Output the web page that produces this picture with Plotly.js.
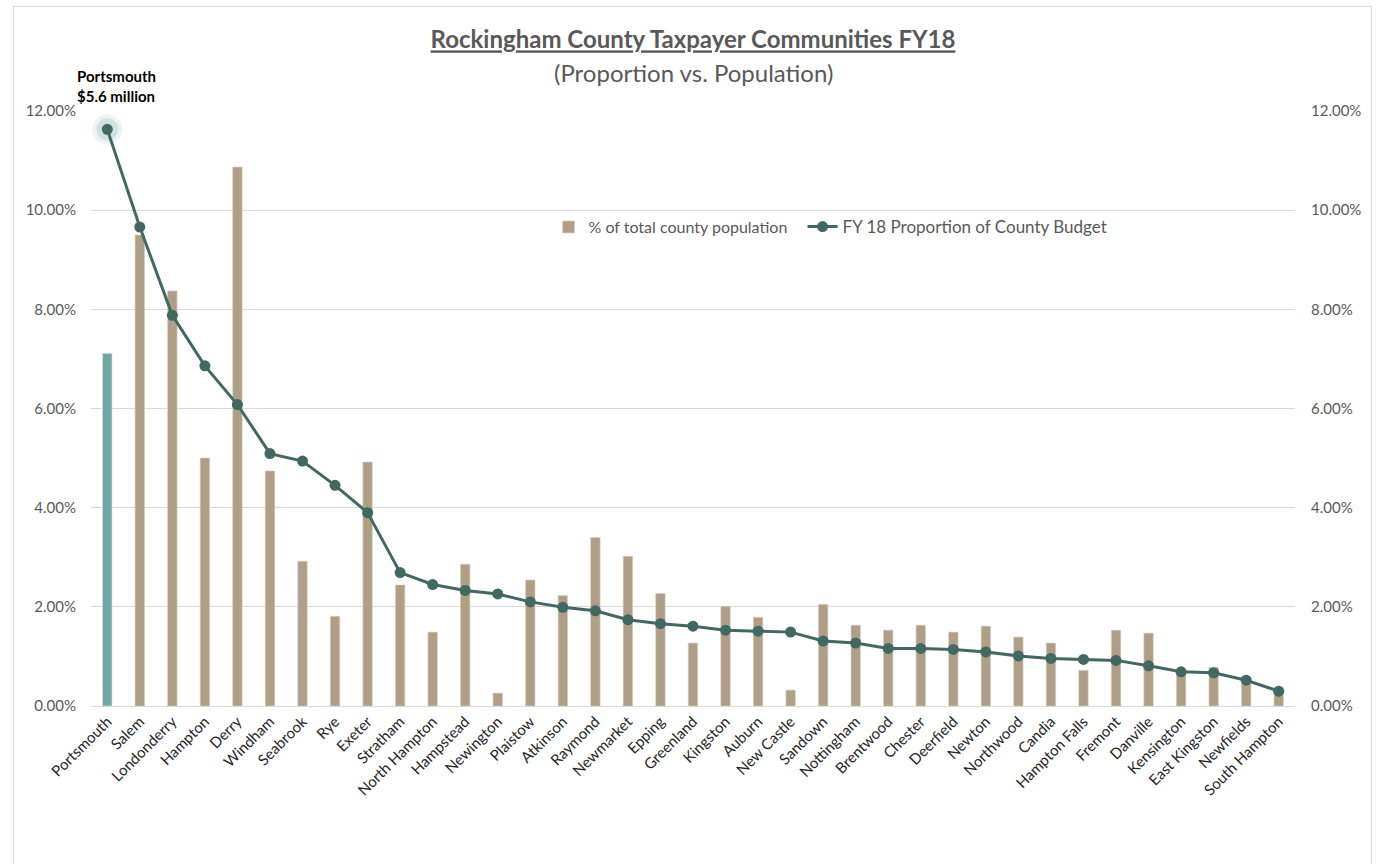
<!DOCTYPE html>
<html>
<head>
<meta charset="utf-8">
<script src="https://cdn.plot.ly/plotly-3.0.1.min.js"></script>
<style>
  html, body { margin: 0; padding: 0; background: #ffffff; }
  #wrap { position: relative; width: 1378px; height: 864px; overflow: hidden; }
  #chart { width: 1378px; height: 864px; }
  #frame { position: absolute; left: 13px; top: 6px; width: 1357px; height: 900px;
           border: 1px solid #d9d9d9; pointer-events: none; }
</style>
</head>
<body>
<div id="wrap">
  <div id="chart"></div>
  <div id="frame"></div>
</div>
<script>
// ---- data ----
const communities = ["Portsmouth","Salem","Londonderry","Hampton","Derry","Windham","Seabrook","Rye","Exeter","Stratham",
  "North Hampton","Hampstead","Newington","Plaistow","Atkinson","Raymond","Newmarket","Epping","Greenland","Kingston",
  "Auburn","New Castle","Sandown","Nottingham","Brentwood","Chester","Deerfield","Newton","Northwood","Candia",
  "Hampton Falls","Fremont","Danville","Kensington","East Kingston","Newfields","South Hampton"];

// % of total county population
const populationShare = [0.0711,0.0950,0.0837,0.0500,0.1087,0.0474,0.0292,0.0181,0.0492,0.0244,
  0.0149,0.0286,0.0026,0.0254,0.0223,0.0340,0.0302,0.0227,0.0127,0.0201,
  0.0179,0.0032,0.0205,0.0163,0.0153,0.0163,0.0149,0.0161,0.0139,0.0127,
  0.0072,0.0153,0.0147,0.0068,0.0078,0.0055,0.0033];

// FY 18 proportion of county budget
const budgetShare = [0.1163,0.0966,0.0788,0.0686,0.0608,0.0509,0.0494,0.0445,0.0390,0.0269,
  0.0245,0.0233,0.0226,0.0210,0.0199,0.0192,0.0174,0.0166,0.0161,0.0153,
  0.0151,0.0149,0.0131,0.0127,0.0116,0.0116,0.0114,0.0109,0.0101,0.0096,
  0.0094,0.0092,0.0081,0.0069,0.0067,0.0052,0.0030];

const yTicks = [0,0.02,0.04,0.06,0.08,0.10,0.12];
const calloutLines = ["Portsmouth","$5.6 million"];
const titleText = "Rockingham County Taxpayer Communities FY18";
const subtitleText = "(Proportion vs. Population)";
const barName = "% of total county population";
const lineName = "FY 18 Proportion of County Budget";

// ---- styles ----
const FONT = "Lato, 'Open Sans', sans-serif";
const TAN = "#b09f87";
const TEAL_BAR = "#72a6a3";
const LINE = "#426862";

const traces = [
  {
    type: "bar", name: barName, showlegend: false,
    x: communities.slice(0, 1), y: populationShare.slice(0, 1),
    marker: { color: TEAL_BAR, line: { color: "#cfe0de", width: 0.6 } },
    yaxis: "y", hoverinfo: "skip"
  },
  {
    type: "bar", name: barName, legend: "legend",
    x: communities.slice(1), y: populationShare.slice(1),
    marker: { color: TAN, line: { color: "#d8cfc2", width: 0.6 } },
    yaxis: "y", hoverinfo: "skip"
  },
  {
    type: "scatter", mode: "markers", showlegend: false,
    x: [communities[0]], y: [budgetShare[0]], yaxis: "y2",
    marker: { size: 30, color: "rgba(114,166,163,0.12)" }, hoverinfo: "skip"
  },
  {
    type: "scatter", mode: "markers", showlegend: false,
    x: [communities[0]], y: [budgetShare[0]], yaxis: "y2",
    marker: { size: 22, color: "rgba(114,166,163,0.22)" }, hoverinfo: "skip"
  },
  {
    type: "scatter", mode: "lines+markers", name: lineName, legend: "legend2",
    x: communities, y: budgetShare, yaxis: "y2",
    line: { color: LINE, width: 3 },
    marker: { color: LINE, size: 11 }, hoverinfo: "skip"
  }
];

const axisCommon = {
  range: [0, 0.12], tickvals: yTicks, tickformat: ".2%",
  tickfont: { family: FONT, size: 15, color: "#595959" },
  zeroline: false, showline: false, ticks: "", fixedrange: true, automargin: false
};

const legendCommon = {
  orientation: "h", y: 0.805, xanchor: "left", yanchor: "middle",
  font: { family: FONT, size: 16, color: "#595959" },
  bgcolor: "rgba(0,0,0,0)", itemwidth: 30
};

const layout = {
  width: 1378, height: 864,
  paper_bgcolor: "#ffffff", plot_bgcolor: "#ffffff",
  margin: { l: 91, r: 83, t: 111, b: 158 },
  font: { family: FONT, color: "#595959" },
  title: {
    text: "<u><b>" + titleText + "</b></u>",
    font: { family: FONT, size: 24, color: "#595959" },
    x: 0.5, xanchor: "center", xref: "paper", automargin: false,
    y: 1 - 40 / 864, yanchor: "middle", yref: "container"
  },
  barmode: "overlay",
  bargap: 0.71,
  showlegend: true,
  legend: Object.assign({}, legendCommon, { x: 0.38 }),
  legend2: Object.assign({}, legendCommon, { x: 0.591, font: { family: FONT, size: 17, color: "#595959" } }),
  xaxis: {
    type: "category", categoryorder: "array", categoryarray: communities,
    range: [-0.5, communities.length - 0.5],
    tickangle: -45, showgrid: false, showline: true, automargin: false,
    linecolor: "#d9d9d9", linewidth: 1, ticks: "",
    tickfont: { family: FONT, size: 15, color: "#262626" }, fixedrange: true
  },
  yaxis: Object.assign({}, axisCommon, {
    showgrid: true, gridcolor: "#d9d9d9", gridwidth: 1, side: "left", ticklabelstandoff: 14
  }),
  yaxis2: Object.assign({}, axisCommon, {
    overlaying: "y", side: "right", showgrid: false, ticklabelstandoff: 15
  }),
  annotations: [
    {
      text: subtitleText, xref: "paper", yref: "paper", x: 0.5, y: (706 - 72) / 595,
      xanchor: "center", yanchor: "middle", showarrow: false,
      font: { family: FONT, size: 24, color: "#595959" }
    },
    {
      text: "<b>" + calloutLines.join("<br>") + "</b>",
      xref: "x", yref: "paper", x: communities[0], y: (706 - 86) / 595,
      xanchor: "center", yanchor: "middle", align: "left", showarrow: false,
      xshift: 9, font: { family: FONT, size: 15, color: "#000000" }
    }
  ]
};

Plotly.newPlot("chart", traces, layout, { displayModeBar: false, staticPlot: true });
</script>
</body>
</html>
